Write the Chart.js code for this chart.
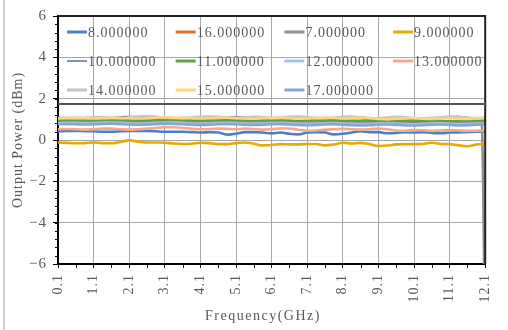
<!DOCTYPE html>
<html><head><meta charset="utf-8">
<script src="https://cdn.jsdelivr.net/npm/chart.js@4"></script>
<style>html,body{margin:0;padding:0;background:#fff}</style>
</head><body>
<canvas id="c" width="508" height="330" style="display:block;width:508px;height:330px"></canvas>
<script>
// ---- data ----
const freq = [0.1,0.35,0.6,0.85,1.1,1.35,1.6,1.85,2.1,2.35,2.6,2.85,3.1,3.35,3.6,3.85,4.1,4.35,4.6,4.85,5.1,5.35,5.6,5.85,6.1,6.35,6.6,6.85,7.1,7.35,7.6,7.85,8.1,8.35,8.6,8.85,9.1,9.35,9.6,9.85,10.1,10.35,10.6,10.85,11.1,11.35,11.6,11.85,12.0,12.1];
const seriesNames = ['8.000000','16.000000','7.000000','9.000000','10.000000','11.000000','12.000000','13.000000','14.000000','15.000000','17.000000'];
const seriesColors = ['#4a80c4','#e2702e','#8e8e8e','#e6aa00','#2c4c88','#62a140','#9fc4e8','#f4a98c','#c4c4c4','#ffd47c','#86a3dc'];
const s8  = [0.42,0.44,0.44,0.43,0.42,0.40,0.40,0.42,0.44,0.44,0.44,0.42,0.40,0.40,0.40,0.38,0.36,0.38,0.36,0.26,0.30,0.38,0.38,0.36,0.32,0.36,0.30,0.27,0.36,0.38,0.36,0.27,0.30,0.36,0.42,0.38,0.38,0.33,0.34,0.38,0.36,0.38,0.34,0.33,0.36,0.37,0.38,0.40,0.40,0.40];
const s16 = [0.92,0.93,0.92,0.91,0.92,0.94,0.97,0.95,0.92,0.91,0.92,0.93,0.95,0.94,0.92,0.91,0.92,0.95,0.97,0.95,0.92,0.91,0.92,0.94,0.96,0.94,0.92,0.91,0.90,0.91,0.93,0.94,0.92,0.90,0.89,0.90,0.92,0.93,0.91,0.89,0.88,0.89,0.91,0.92,0.90,0.88,0.89,0.90,0.90,0.90];
const s7  = [0.88,0.89,0.88,0.87,0.88,0.90,0.91,0.90,0.88,0.87,0.88,0.90,0.92,0.91,0.89,0.88,0.87,0.88,0.90,0.91,0.90,0.88,0.87,0.88,0.90,0.91,0.89,0.87,0.86,0.87,0.89,0.90,0.88,0.86,0.85,0.86,0.88,0.89,0.87,0.85,0.84,0.85,0.87,0.88,0.86,0.84,0.85,0.86,0.85,-10];
const s9  = [-0.12,-0.14,-0.16,-0.15,-0.12,-0.15,-0.16,-0.10,-0.02,-0.08,-0.12,-0.12,-0.13,-0.17,-0.19,-0.18,-0.13,-0.15,-0.20,-0.20,-0.15,-0.12,-0.18,-0.26,-0.24,-0.20,-0.21,-0.21,-0.19,-0.19,-0.26,-0.22,-0.13,-0.17,-0.14,-0.20,-0.29,-0.27,-0.21,-0.20,-0.20,-0.19,-0.13,-0.19,-0.20,-0.26,-0.30,-0.22,-0.19,-0.18];
const s10 = [1.00,1.02,1.04,1.02,1.00,1.03,1.08,1.12,1.15,1.12,1.06,1.02,1.00,1.02,1.05,1.03,1.00,1.02,1.06,1.10,1.13,1.10,1.05,1.02,1.00,0.98,1.02,1.06,1.04,1.00,0.98,1.00,1.04,1.08,1.05,1.00,0.98,1.01,1.05,1.03,1.00,1.02,1.06,1.10,1.12,1.14,1.10,1.05,1.02,1.00];
const s11 = [0.96,0.97,0.97,0.96,0.96,0.97,0.98,0.97,0.96,0.95,0.96,0.97,0.98,0.99,0.98,0.96,0.95,0.96,0.97,0.96,0.95,0.96,0.97,0.98,0.97,0.95,0.94,0.95,0.96,0.95,0.93,0.92,0.93,0.94,0.93,0.92,0.91,0.92,0.93,0.92,0.91,0.92,0.93,0.92,0.90,0.91,0.93,0.93,0.92,0.92];
const s12 = [0.82,0.83,0.82,0.81,0.82,0.84,0.85,0.83,0.81,0.80,0.81,0.83,0.85,0.84,0.82,0.80,0.79,0.80,0.82,0.83,0.82,0.80,0.79,0.80,0.82,0.83,0.81,0.79,0.78,0.79,0.81,0.82,0.80,0.78,0.77,0.78,0.80,0.81,0.79,0.77,0.76,0.78,0.80,0.81,0.79,0.77,0.78,0.80,0.80,0.80];
const s13 = [0.52,0.53,0.52,0.50,0.52,0.55,0.55,0.52,0.50,0.52,0.55,0.58,0.62,0.62,0.58,0.54,0.52,0.53,0.55,0.54,0.52,0.55,0.53,0.50,0.52,0.56,0.56,0.50,0.45,0.46,0.50,0.52,0.54,0.52,0.50,0.52,0.56,0.52,0.46,0.45,0.48,0.47,0.44,0.46,0.48,0.46,0.44,0.45,0.46,0.46];
const s14 = [1.08,1.08,1.07,1.08,1.10,1.10,1.08,1.07,1.10,1.14,1.15,1.12,1.08,1.06,1.07,1.09,1.12,1.14,1.12,1.08,1.07,1.09,1.12,1.10,1.07,1.08,1.12,1.14,1.11,1.07,1.06,1.08,1.12,1.14,1.10,1.06,1.05,1.08,1.12,1.10,1.06,1.05,1.07,1.10,1.13,1.12,1.08,1.06,1.07,1.07];
const s15 = [1.04,1.05,1.06,1.05,1.04,1.05,1.07,1.06,1.05,1.04,1.05,1.08,1.10,1.08,1.06,1.05,1.04,1.05,1.07,1.08,1.06,1.04,1.03,1.05,1.06,1.07,1.05,1.03,1.04,1.06,1.07,1.06,1.04,1.06,1.08,1.05,1.02,1.00,1.03,1.05,1.05,1.03,1.02,1.04,1.05,1.03,1.02,1.04,1.05,1.05];
const s17 = [0.76,0.77,0.76,0.75,0.76,0.78,0.79,0.77,0.75,0.74,0.75,0.77,0.79,0.78,0.76,0.74,0.73,0.74,0.76,0.77,0.76,0.74,0.73,0.74,0.76,0.77,0.75,0.73,0.72,0.73,0.75,0.76,0.74,0.72,0.71,0.72,0.74,0.75,0.73,0.71,0.70,0.72,0.74,0.75,0.73,0.71,0.72,0.74,0.75,0.76];
const seriesValues = [s8,s16,s7,s9,s10,s11,s12,s13,s14,s15,s17];
const xTitle = 'Frequency(GHz)';
const yTitle = 'Output Power (dBm)';

const FONT = '"Liberation Serif", "Times New Roman", serif';
const TXT = '#595959';

const datasets = seriesNames.map((name, i) => ({
  label: name,
  data: freq.map((f, k) => ({x: f, y: seriesValues[i][k]})),
  borderColor: seriesColors[i],
  backgroundColor: seriesColors[i],
  borderWidth: name === '10.000000' ? 1.2 : 2.6,
  pointRadius: 0,
  fill: false,
  cubicInterpolationMode: 'monotone',
  order: -i
}));

const decor = {
  id: 'decor',
  beforeDraw(chart) {
    const ctx = chart.ctx;
    ctx.save();
    ctx.fillStyle = '#fff';
    ctx.fillRect(0, 0, chart.width, chart.height);
    ctx.strokeStyle = '#cfcfcf';
    ctx.lineWidth = 2;
    ctx.beginPath(); ctx.moveTo(4, 0); ctx.lineTo(4, chart.height); ctx.stroke();
    ctx.restore();
    ctx.letterSpacing = '1px';
  },
  afterDraw(chart) {
    const ctx = chart.ctx, ca = chart.chartArea;
    const xs = chart.scales.x, ys = chart.scales.y;
    ctx.save();
    // minor ticks
    ctx.strokeStyle = '#000'; ctx.lineWidth = 1;
    ctx.beginPath();
    for (let v = -6; v <= 6.001; v += 0.4) {
      const y = Math.round(ys.getPixelForValue(v)) + 0.5;
      ctx.moveTo(ca.left - 3, y); ctx.lineTo(ca.left, y);
    }
    for (let v = 0.6; v < 12.1; v += 1) {
      const x = Math.round(xs.getPixelForValue(v)) + 0.5;
      ctx.moveTo(x, ca.bottom); ctx.lineTo(x, ca.bottom + 4);
    }
    ctx.stroke();
    // plot border top/right
    ctx.strokeStyle = '#222'; ctx.lineWidth = 2;
    ctx.beginPath();
    ctx.moveTo(ca.left, ca.top); ctx.lineTo(ca.right, ca.top); ctx.lineTo(ca.right, ca.bottom);
    ctx.stroke();
    // x axis title (Excel centres it slightly left of the plot centre)
    ctx.font = '14px ' + FONT;
    ctx.letterSpacing = '1.5px';
    ctx.fillStyle = TXT;
    ctx.textAlign = 'center';
    ctx.textBaseline = 'middle';
    ctx.fillText(xTitle, 263, 316);
    // legend box
    const lb = ca.top + 88;
    ctx.strokeStyle = '#555'; ctx.lineWidth = 2;
    ctx.beginPath(); ctx.moveTo(ca.left, lb); ctx.lineTo(ca.right + 1, lb); ctx.stroke();
    ctx.letterSpacing = '1px';
    ctx.textAlign = 'left';
    chart.data.datasets.forEach((ds, i) => {
      const col = i % 4, row = Math.floor(i / 4);
      const x0 = ca.left + 9 + col * 108.7;
      const y0 = ca.top + 16 + row * 29;
      ctx.strokeStyle = ds.borderColor;
      ctx.lineWidth = ds.borderWidth < 2 ? 1.2 : 3;
      ctx.beginPath(); ctx.moveTo(x0, y0); ctx.lineTo(x0 + 20, y0); ctx.stroke();
      ctx.fillText(ds.label, x0 + 21, y0 + 1);
    });
    ctx.restore();
  }
};

new Chart(document.getElementById('c'), {
  type: 'line',
  data: { datasets },
  options: {
    responsive: false,
    animation: false,
    devicePixelRatio: 1,
    layout: { padding: { left: 0, right: 17, top: 16, bottom: 0 } },
    plugins: { legend: { display: false }, tooltip: { enabled: false } },
    scales: {
      x: {
        type: 'linear', min: 0.1, max: 12.1,
        afterFit(s) { s.height = 66; },
        ticks: { stepSize: 1, minRotation: 90, maxRotation: 90, padding: 6,
          font: { family: FONT, size: 14 }, color: TXT,
          callback: v => Number(v).toFixed(1) },
        grid: { color: '#a8a8a8', lineWidth: 1, borderDash: [2, 2], tickLength: 4,
          tickColor: '#000', tickBorderDash: [], tickWidth: 1 },
        border: { display: true, color: '#000', width: 2 },
        title: { display: false, text: xTitle }
      },
      y: {
        min: -6, max: 6,
        afterFit(s) { s.width = 58; },
        ticks: { stepSize: 2, padding: 6, font: { family: FONT, size: 15 }, color: TXT,
          callback: v => (v < 0 ? '\u2212' + Math.abs(v) : String(v)) },
        grid: { color: '#a8a8a8', lineWidth: 1, borderDash: [2, 2], tickLength: 5,
          tickColor: '#000', tickBorderDash: [], tickWidth: 1 },
        border: { display: true, color: '#000', width: 2 },
        title: { display: true, text: yTitle, color: TXT, font: { family: FONT, size: 14 },
          padding: { top: 10, bottom: 0 } }
      }
    }
  },
  plugins: [decor]
});
</script>
</body></html>
